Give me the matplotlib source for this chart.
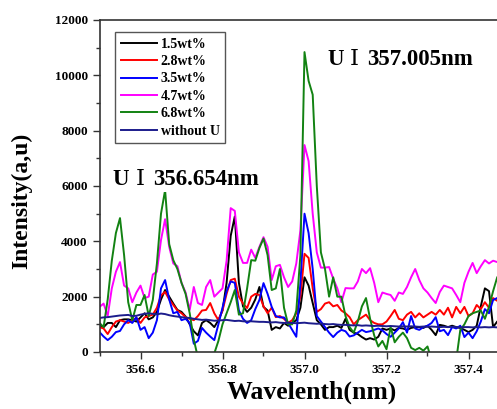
import numpy as np
import matplotlib
matplotlib.use("Agg")
import matplotlib.pyplot as plt
from matplotlib.ticker import MultipleLocator

# wavelength sampling (nm), 0.01 nm step
wavelength = np.round(np.arange(356.50, 357.485, 0.01), 3)

c15 = [980, 900, 1050, 1050, 900, 1150, 1180, 1180, 1150, 1100,
       1250, 1400, 1180, 1250, 1450, 1900, 2240, 2000, 1750, 1520,
       1450, 1280, 1000, 750, 600, 1050, 1150, 1050, 900, 1150,
       1500, 2500, 4200, 4900, 2500, 1650, 1450, 1600, 1900, 2350,
       1630, 1500, 800, 900, 850, 1050, 950, 1050, 1150, 1600,
       2700, 2400, 1770, 1150, 1000, 800, 900, 900, 950, 870,
       1200, 800, 700, 650, 540, 450, 500, 450, 550, 850,
       800, 850, 780, 870, 850, 800, 870, 900, 900, 870,
       950, 800, 610, 980, 950, 900, 950, 900, 870, 800,
       720, 800, 950, 1650, 2300, 2200, 900, 1100, 1200]

c28 = [900, 850, 650, 900, 1100, 1150, 1100, 1050, 1150, 1230,
       1050, 1250, 1300, 1350, 1600, 2050, 2170, 1900, 1700, 1500,
       1400, 1260, 1200, 1150, 1300, 1500, 1520, 1770, 1400, 1150,
       1500, 2100, 2600, 2650, 2000, 1750, 1590, 2000, 2100, 2060,
       1650, 1400, 1600, 1260, 1300, 1200, 1050, 1150, 1400, 2000,
       3550, 3400, 2300, 1450, 1550, 1750, 1800, 1650, 1700, 1500,
       1400, 1260, 1000, 1150, 1250, 1350, 1150, 1050, 1000, 1000,
       1100, 1300, 1520, 1200, 1150, 1350, 1450, 1250, 1400, 1250,
       1350, 1450, 1350, 1520, 1350, 1600, 1250, 1630, 1400, 1630,
       1300, 1400, 1700, 1550, 1800, 1600, 1950, 1850, 1900]

c35 = [720, 560, 430, 550, 720, 760, 1000, 1150, 1050, 1260,
       800, 900, 500, 700, 1150, 2300, 2600, 1900, 1400, 1450,
       1150, 1200, 1050, 300, 400, 870, 700, 560, 430, 1000,
       1600, 2200, 2550, 2500, 1500, 1200, 1050, 1150, 1550, 1880,
       2490, 2100, 1630, 1300, 1250, 1250, 1050, 800, 550, 2500,
       5000, 4300, 3000, 1300, 1100, 900, 700, 540, 700, 800,
       750, 560, 600, 700, 800, 720, 750, 800, 850, 780,
       650, 550, 700, 850, 1080, 700, 1300, 850, 800, 900,
       950, 1050, 1260, 750, 800, 610, 900, 850, 950, 540,
       700, 500, 750, 1100, 1550, 1400, 1880, 1950, 2000]

c47 = [1630, 1750, 1300, 2300, 2900, 3250, 2400, 2300, 1800, 2150,
       2400, 1950, 2000, 2800, 2900, 4050, 4800, 3800, 3200, 3100,
       2500, 2150, 1520, 2350, 1770, 1700, 2350, 2600, 2000, 2150,
       2300, 3300, 5200, 5100, 3600, 3220, 3220, 3700, 3400, 3800,
       4150, 3800, 2600, 3100, 3150, 2700, 2350, 2550, 3200, 4400,
       7480, 6900, 5000, 3600, 3050, 3050, 3070, 2650, 2300, 1800,
       2310, 2300, 2300, 2550, 3000, 2850, 3030, 2500, 1800, 2150,
       2100, 2060, 1850, 2150, 2100, 2350, 2700, 3000, 2600, 2300,
       2150, 1950, 1770, 2170, 2400, 2350, 2300, 2060, 1800, 2500,
       2900, 3220, 2850, 3100, 3320, 3200, 3300, 3250, 3200]

c68 = [1050, 900, 1900, 3300, 4300, 4840, 3500, 1800, 1150, 1700,
       1700, 2060, 1300, 1880, 3200, 5000, 5850, 3900, 3320, 3000,
       2500, 2100, 1400, 450, -200, -600, -600, -300, -50, 400,
       1000, 1400, 1800, 2240, 1350, 1400, 2300, 3320, 3300, 3760,
       4100, 3500, 2240, 2300, 3000, 1600, 1000, 1000, 1500, 3500,
       10840, 9800, 9300, 6000, 3600, 3000, 2000, 2700, 2000, 2000,
       1300, 900, 700, 1100, 1650, 1950, 1200, 600, 200, 400,
       100, 900, 350, 550, 700, 500, 150, 70, 150, 50,
       200, -300, -500, -500, -500, -500, -500, -300, 800, 1000,
       1300, 1400, 1450, 1500, 1200, 1630, 2200, 2700, 2900]

no_u = [1230, 1250, 1260, 1280, 1300, 1320, 1330, 1340, 1300, 1310,
        1350, 1380, 1400, 1380, 1360, 1390, 1370, 1330, 1300, 1280,
        1260, 1240, 1230, 1200, 1180, 1160, 1170, 1150, 1130, 1140,
        1150, 1160, 1140, 1120, 1130, 1110, 1100, 1110, 1100, 1090,
        1090, 1080, 1070, 1080, 1060, 1050, 1060, 1050, 1040, 1050,
        1060, 1040, 1030, 1020, 1030, 1010, 1000, 1010, 990, 980,
        980, 970, 960, 970, 950, 960, 950, 940, 950, 940,
        930, 940, 930, 920, 930, 920, 930, 920, 910, 920,
        910, 920, 910, 900, 910, 900, 910, 900, 890, 900,
        900, 890, 900, 890, 900, 890, 900, 890, 900]

series = [c15, c28, c35, c47, c68, no_u]
labels = ["1.5wt%", "2.8wt%", "3.5wt%", "4.7wt%", "6.8wt%", "without U"]
colors = ["#000000", "#ff0000", "#0000ff", "#ff00ff", "#128212", "#1c1c8c"]

serif = ["Liberation Serif", "DejaVu Serif"]
plt.rcParams["font.family"] = serif
plt.rcParams["font.weight"] = "bold"

fig = plt.figure(figsize=(4.97, 4.09), dpi=100)
ax = fig.add_axes([99.5 / 497, 57 / 409, 397.5 / 497, 332 / 409])

for vals, lab, col in zip(series, labels, colors):
    ax.plot(wavelength, vals, color=col, lw=1.4, label=lab)

ax.set_xlim(356.5, 356.5 + 397.5 / 410)
ax.set_ylim(0, 12000)
ax.xaxis.set_major_locator(MultipleLocator(0.2))
ax.xaxis.set_minor_locator(MultipleLocator(0.1))
ax.yaxis.set_major_locator(MultipleLocator(2000))
ax.yaxis.set_minor_locator(MultipleLocator(1000))
ax.xaxis.set_major_formatter(matplotlib.ticker.FormatStrFormatter("%.1f"))
ax.tick_params(which="both", direction="out", top=False, right=False,
               labelsize=9.5, color="#333333", width=1)
ax.tick_params(which="major", length=5)
ax.tick_params(which="minor", length=3)
for lbl in ax.get_xticklabels() + ax.get_yticklabels():
    lbl.set_fontweight("bold")
ax.spines["right"].set_visible(False)
for s in ["left", "top", "bottom"]:
    ax.spines[s].set_color("#333333")
    ax.spines[s].set_linewidth(1.2)

ax.set_xlabel("Wavelenth(nm)", fontsize=18.5, fontweight="bold")
ax.set_ylabel("Intensity(a,u)", fontsize=17, fontweight="bold")
ax.xaxis.set_label_coords(0.535, -0.085)
ax.yaxis.set_label_coords(-0.168, 0.455)

leg = ax.legend(loc="upper left", bbox_to_anchor=(0.039, 0.964), borderaxespad=0,
                fancybox=False, framealpha=1, edgecolor="#555555",
                prop={"family": serif, "weight": "bold", "size": 10},
                handlelength=2.6, handletextpad=0.3, labelspacing=0.32,
                borderpad=0.4)
leg.get_frame().set_linewidth(1.0)


def line_label(x, y, wl):
    box = dict(facecolor="white", edgecolor="none", pad=1)
    t1 = ax.text(x, y, "U", fontsize=16.5, fontweight="bold",
                 va="baseline", ha="left", bbox=box)
    t2 = ax.annotate("\u2160", xy=(1, 0), xycoords=t1, xytext=(4.5, 0),
                     textcoords="offset points", fontsize=16.5,
                     fontweight="normal", family=serif, va="bottom", ha="left",
                     bbox=box)
    ax.annotate(wl, xy=(1, 0), xycoords=t2, xytext=(6, 0),
                textcoords="offset points", fontsize=16.5, fontweight="bold",
                va="bottom", ha="left", bbox=box)


line_label(356.532, 6020, "356.654nm")
line_label(357.056, 10370, "357.005nm")

fig.savefig("out.png", dpi=100)
